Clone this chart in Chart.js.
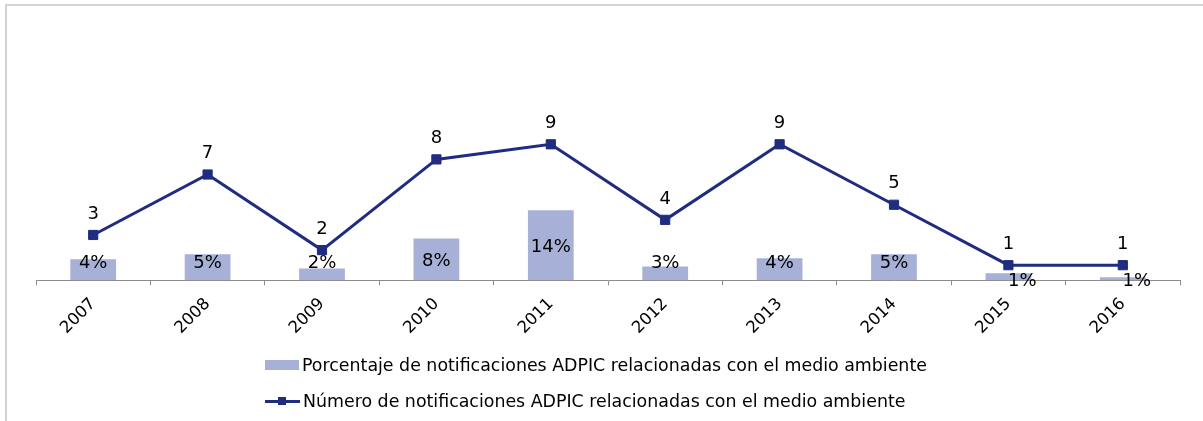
<!DOCTYPE html>
<html>
<head>
<meta charset="utf-8">
<script src="https://cdn.jsdelivr.net/npm/chart.js@4"></script>
<style>
  html, body { margin: 0; padding: 0; background: #fff; }
  body { width: 1203px; height: 421px; position: relative; overflow: hidden; font-family: "DejaVu Sans", Verdana, sans-serif; }
  #frame { position: absolute; left: 5px; top: 4px; width: 1300px; height: 500px; border-top: 2px solid #d2d2d2; border-left: 2px solid #d2d2d2; }
  #wrap { position: absolute; left: 0; top: 0; width: 1203px; height: 421px; }
  #legend { position: absolute; left: 265px; top: 347px; font-size: 17.4px; color: #000; }
  .row { height: 36px; display: flex; align-items: center; white-space: nowrap; }
  .box { width: 34px; height: 10px; background: #a7b1d8; margin-right: 3px; }
  .ln { width: 35px; height: 3px; background: #1f2c7f; margin-right: 3px; position: relative; }
  .ln::after { content: ""; position: absolute; left: 13px; top: -3px; width: 8px; height: 8px; background: #1f2c7f; }
</style>
</head>
<body>
<div id="frame"></div>
<div id="wrap"><canvas id="chart"></canvas></div>
<div id="legend">
  <div class="row"><span class="box"></span><span id="lbl-bar"></span></div>
  <div class="row"><span class="ln"></span><span id="lbl-line"></span></div>
</div>
<script>
const years = ['2007', '2008', '2009', '2010', '2011', '2012', '2013', '2014', '2015', '2016'];
const pctNotif = [4.1, 5.1, 2.3, 8.2, 13.7, 2.7, 4.3, 5.1, 1.4, 0.6];
const numNotif = [3, 7, 2, 8, 9, 4, 9, 5, 1, 1];
const barLabel = 'Porcentaje de notificaciones ADPIC relacionadas con el medio ambiente';
const lineLabel = 'Número de notificaciones ADPIC relacionadas con el medio ambiente';

document.getElementById('lbl-bar').textContent = barLabel;
document.getElementById('lbl-line').textContent = lineLabel;

const navy = '#1f2c7f';
const lilac = '#a7b1d8';
const font = '"DejaVu Sans", Verdana, sans-serif';

// value labels drawn next to the bars and above the points
const valueLabels = {
  id: 'valueLabels',
  afterDatasetsDraw(chart) {
    const ctx = chart.ctx;
    ctx.save();
    ctx.font = '18px ' + font;
    ctx.fillStyle = '#000';
    ctx.textAlign = 'center';
    ctx.textBaseline = 'middle';
    chart.data.datasets.forEach((ds, i) => {
      const meta = chart.getDatasetMeta(i);
      meta.data.forEach((el, j) => {
        const v = ds.data[j];
        if (ds.type === 'bar') {
          const h = el.base - el.y;
          let x = el.x, y;
          if (h < 10) { x += 14; y = el.base + 1; }
          else y = Math.min((el.y + el.base) / 2 + 2, el.base - 17);
          ctx.fillText(Math.round(v) + '%', x, y);
        } else {
          ctx.fillText(String(v), el.x, el.y - 21);
        }
      });
    });
    ctx.restore();
  }
};

new Chart(document.getElementById('chart'), {
  data: {
    labels: years,
    datasets: [
      {
        type: 'line',
        label: lineLabel,
        data: numNotif,
        yAxisID: 'y',
        borderColor: navy,
        backgroundColor: navy,
        borderWidth: 3,
        pointStyle: 'rect',
        pointRadius: 6.5,
        pointBorderWidth: 1,
        tension: 0,
        order: 1
      },
      {
        type: 'bar',
        label: barLabel,
        data: pctNotif,
        yAxisID: 'y2',
        backgroundColor: lilac,
        barPercentage: 0.4,
        categoryPercentage: 1,
        order: 2
      }
    ]
  },
  options: {
    responsive: true,
    maintainAspectRatio: false,
    animation: false,
    layout: { padding: { left: 36, right: 23, top: 40, bottom: 74 } },
    plugins: { legend: { display: false }, tooltip: { enabled: false } },
    scales: {
      x: {
        offset: true,
        grid: { display: true, drawOnChartArea: false, offset: true, tickLength: 5, color: '#8c8c8c' },
        border: { color: '#8c8c8c', width: 1 },
        ticks: { minRotation: 45, maxRotation: 45, color: '#000', padding: 9, font: { family: font, size: 16.5 } }
      },
      y: { display: false, min: 0, max: 15.9 },
      y2: { display: false, min: 0, max: 47 }
    }
  },
  plugins: [valueLabels]
});
</script>
</body>
</html>
